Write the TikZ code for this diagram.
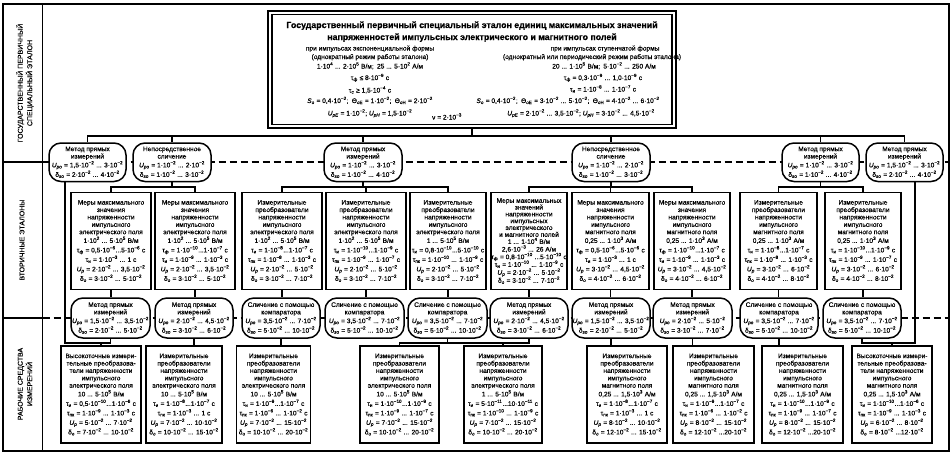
\documentclass[tikz,border=0pt]{standalone}
\usepackage{fontspec}
\setmainfont{Liberation Sans}[FakeBold=0.4]
\newcommand\tn[1]{·10\textsuperscript{#1}}
\newcommand\sbs[1]{\textsubscript{#1}}
\newcommand\Up{\textit{U}\textsubscript{\textit{p}}}
\newcommand\fl{\\[2.1pt]}
\newcommand\ovt[4]{#1\\#2\\[1.4pt]\textit{U}\textsubscript{\textit{po}} = #3\\[2.1pt]δ\textsubscript{\textit{so}} = #4}
\tikzset{
  fs/.style={font={\fontsize{6.6}{7.4}\selectfont\lineskiplimit=-20pt}},
  ov/.style={fs, draw, line width=1.5pt, fill=white, rounded corners=12pt, minimum height=38.5pt, inner sep=0pt, align=center},
  ovc/.style={ov, minimum height=40pt},
  bx/.style={fs, draw, line width=1.8pt, fill=white, minimum height=97pt, inner sep=0pt, align=center},
  ln/.style={line width=1.1pt},
  sepl/.style={line width=1.4pt, dash pattern=on 7pt off 4pt},
  txt/.style={fs, anchor=base, inner sep=0pt},
  rot/.style={rotate=90, align=center, font={\fontsize{7}{9.5}\selectfont}, inner sep=0pt},
}
\begin{document}
\begin{tikzpicture}[x=1pt,y=-1pt]
\useasboundingbox (0,0) rectangle (952,456);
\fill[white] (0,0) rectangle (952,456);
\coordinate (hb) at (0,136);
\coordinate (hs) at (0,187);
\coordinate (hw) at (0,343);
\coordinate (xl) at (65,0);
\coordinate (xr) at (915,0);
% separators
\draw[sepl] (42.5,162) -- (949,162);
\draw[sepl] (42.5,318) -- (949,318);
\draw[line width=2.2pt] (3,4) rectangle (949,451);
\draw[line width=1.8pt] (42.5,4) -- (42.5,451);
\draw[line width=1.8pt] (3,162) -- (42.5,162);
\draw[line width=1.8pt] (3,318) -- (42.5,318);
% side labels
\node[rot] (l1) at (25,83) {ГОСУДАРСТВЕННЫЙ ПЕРВИЧНЫЙ\\СПЕЦИАЛЬНЫЙ ЭТАЛОН};
\node[rot] (l2) at (22,240) {ВТОРИЧНЫЕ ЭТАЛОНЫ};
\node[rot] (l3) at (25,384) {РАБОЧИЕ СРЕДСТВА\\ИЗМЕРЕНИЙ};
% main box
\node[draw, line width=2.2pt, minimum width=408pt, minimum height=117pt, inner sep=0pt] (main) at (472,69.5) {};
\node[draw, line width=1.1pt, minimum width=400pt, minimum height=110pt, inner sep=0pt] (maini) at (472,69.5) {};
\node[txt, font={\fontsize{8.8}{10}\selectfont\bfseries}] (t1) at (472,28) {Государственный первичный специальный эталон единиц максимальных значений};
\node[txt, font={\fontsize{8.8}{10}\selectfont\bfseries}] (t2) at (472,40) {напряженностей импульсных электрического и магнитного полей};
\node[txt] (e1) at (370,50.5) {при импульсах экспоненциальной формы};
\node[txt] (e2) at (370,59) {(однократный режим работы эталона)};
\node[txt] (e3) at (370,68.5) {1\tn{4} ... 2\tn{5} В/м;\enspace 25 ... 5\tn{2} А/м};
\node[txt] (e4) at (370,80) {τ\sbs{ф} ≤ 8\tn{−9} с};
\node[txt] (e5) at (370,92.5) {τ\sbs{с} ≥ 1,5\tn{−4} с};
\node[txt] (e6) at (370,103) {\textit{S}\sbs{о} = 0,4\tn{−2};\enspace Θ\sbs{оE} = 1\tn{−2};\enspace Θ\sbs{оH} = 2\tn{−2}};
\node[txt] (e7) at (370,115.5) {\textit{U}\sbs{\textit{pE}} = 1\tn{−2}; \textit{U}\sbs{\textit{pH}} = 1,5\tn{−2}};
\node[txt] (nu) at (447,119.5) {ν = 2\tn{−3}};
\node[txt] (s1) at (605,50.5) {при импульсах ступенчатой формы};
\node[txt] (s2) at (592,59) {(однократный или периодический режим работы эталона)};
\node[txt] (s3) at (604,68.5) {20 ... 1\tn{5} В/м;\enspace 5\tn{−2} ... 250 А/м};
\node[txt] (s4) at (603,80) {τ\sbs{ф} = 0,3\tn{−9} ... 1,0\tn{−9} с};
\node[txt] (s5) at (603,91.5) {τ\sbs{и} = 1\tn{−8} ... 1\tn{−7} с};
\node[txt] (s6) at (568,103) {\textit{S}\sbs{о} = 0,4\tn{−2};\enspace Θ\sbs{оE} = 3\tn{−2} ... 5\tn{−2};\enspace Θ\sbs{оH} = 4\tn{−2} ... 6\tn{−2}};
\node[txt] (s7) at (581,115.5) {\textit{U}\sbs{\textit{pE}} = 2\tn{−2} ... 3,5\tn{−2}; \textit{U}\sbs{\textit{pH}} = 3\tn{−2} ... 4,5\tn{−2}};
% level 1 ovals
\node[ov, minimum width=77pt] (a1) at (87.5,162.25) {\ovt{Метод прямых}{измерений}{1,5\tn{−2} ... 3\tn{−2}}{2\tn{−2} ... 4\tn{−2}}};
\node[ov, minimum width=78pt] (a2) at (172,162.25) {\ovt{Непосредственное}{сличение}{1\tn{−2} ... 2\tn{−2}}{1\tn{−2} ... 3\tn{−2}}};
\node[ov, minimum width=78pt] (a3) at (363,162.25) {\ovt{Метод прямых}{измерений}{1\tn{−2} ... 3\tn{−2}}{1\tn{−2} ... 4\tn{−2}}};
\node[ov, minimum width=78pt] (a4) at (611,162.25) {\ovt{Непосредственное}{сличение}{1\tn{−2} ... 2\tn{−2}}{1\tn{−2} ... 3\tn{−2}}};
\node[ov, minimum width=77pt] (a5) at (820.5,162.25) {\ovt{Метод прямых}{измерений}{1\tn{−2} ... 3\tn{−2}}{1\tn{−2} ... 4\tn{−2}}};
\node[ov, minimum width=77pt] (a6) at (904.5,162.25) {\ovt{Метод прямых}{измерений}{1,5\tn{−2} ... 3\tn{−2}}{2\tn{−2} ... 4\tn{−2}}};
% secondary standards
\node[bx, minimum width=80pt] (b1) at (111,241) {Меры максимального\\значения\\напряженности\\импульсного\\электрического поля\\[1.3pt]1\tn{2} ... 5\tn{5} В/м\fl τ\sbs{ф} = 0,5\tn{−6}...5\tn{−6} с\fl τ\sbs{и} = 1\tn{−3} ... 1 с\fl \Up{} = 2\tn{−2} ... 3,5\tn{−2}\fl δ\sbs{о} = 3\tn{−2} ... 5\tn{−2}};
\node[bx, minimum width=80pt] (b2) at (195,241) {Меры максимального\\значения\\напряженности\\импульсного\\электрического поля\\[1.3pt]1\tn{2} ... 5\tn{5} В/м\fl τ\sbs{ф} = 1\tn{−10}...1\tn{−7} с\fl τ\sbs{и} = 1\tn{−9} ... 1\tn{−3} с\fl \Up{} = 2\tn{−2} ... 3,5\tn{−2}\fl δ\sbs{о} = 3\tn{−2} ... 5\tn{−2}};
\node[bx, minimum width=80pt] (b3) at (282,241) {Измерительные\\преобразователи\\напряженности\\импульсного\\электрического поля\\[1.3pt]1\tn{2} ... 5\tn{5} В/м\fl τ\sbs{и} = 1\tn{−8}...1\tn{−7} с\fl τ\sbs{пк} = 1\tn{−8} ... 1\tn{−3} с\fl \Up{} = 2\tn{−2} ... 5\tn{−2}\fl δ\sbs{о} = 3\tn{−2} ... 7\tn{−2}};
\node[bx, minimum width=80pt] (b4) at (366,241) {Измерительные\\преобразователи\\напряженности\\импульсного\\электрического поля\\[1.3pt]1\tn{2} ... 5\tn{5} В/м\fl τ\sbs{и} = 1\tn{−10}...1\tn{−9} с\fl τ\sbs{пк} = 1\tn{−9} ... 1\tn{−7} с\fl \Up{} = 2\tn{−2} ... 5\tn{−2}\fl δ\sbs{о} = 3\tn{−2} ... 7\tn{−2}};
\node[bx, minimum width=76pt] (b5) at (448,241) {Измерительные\\преобразователи\\напряженности\\импульсного\\электрического поля\\[1.3pt]1 ... 5\tn{5} В/м\fl τ\sbs{и} = 0,8\tn{−10}...5\tn{−10} с\fl τ\sbs{пк} = 1\tn{−10} ... 1\tn{−9} с\fl \Up{} = 2\tn{−2} ... 5\tn{−2}\fl δ\sbs{о} = 3\tn{−2} ... 7\tn{−2}};
\node[bx, minimum width=76pt, font={\fontsize{6.6}{6.8}\selectfont\lineskiplimit=-20pt}] (b6) at (529,241) {Меры максимальных\\значений\\напряженности\\импульсных\\электрического\\и магнитного полей\\[0.4pt]1 ... 1\tn{4} В/м\\[0.8pt]2,6\tn{−3} ... 26 А/м\\[0.8pt]τ\sbs{ф} = 0,8\tn{−10} ...5\tn{−10} с\\[0.8pt]τ\sbs{и} = 1\tn{−10} ... 1\tn{−9} с\\[1.2pt]\Up{} = 2\tn{−2} ... 5\tn{−2}\\[1.2pt]δ\sbs{о} = 3\tn{−2} ... 7\tn{−2}};
\node[bx, minimum width=77pt] (b7) at (610.5,241) {Меры максимального\\значения\\напряженности\\импульсного\\магнитного поля\\[1.3pt]0,25 ... 1\tn{3} А/м\fl τ\sbs{ф} = 0,5\tn{−6}...5\tn{−6} с\fl τ\sbs{и} = 1\tn{−3} ... 1 с\fl \Up{} = 3\tn{−2} ... 4,5\tn{−2}\fl δ\sbs{о} = 4\tn{−2} ... 6\tn{−2}};
\node[bx, minimum width=76pt] (b8) at (692,241) {Меры максимального\\значения\\напряженности\\импульсного\\магнитного поля\\[1.3pt]0,25 ... 1\tn{3} А/м\fl τ\sbs{ф} = 1\tn{−10}...1\tn{−7} с\fl τ\sbs{и} = 1\tn{−9} ... 1\tn{−3} с\fl \Up{} = 3\tn{−2} ... 4,5\tn{−2}\fl δ\sbs{о} = 4\tn{−2} ... 6\tn{−2}};
\node[bx, minimum width=77pt] (b9) at (778.5,241) {Измерительные\\преобразователи\\напряженности\\импульсного\\магнитного поля\\[1.3pt]0,25 ... 1\tn{3} А/м\fl τ\sbs{и} = 1\tn{−8}...1\tn{−7} с\fl τ\sbs{пк} = 1\tn{−8} ... 1\tn{−3} с\fl \Up{} = 3\tn{−2} ... 6\tn{−2}\fl δ\sbs{о} = 4\tn{−2} ... 8\tn{−2}};
\node[bx, minimum width=76pt] (b10) at (863,241) {Измерительные\\преобразователи\\напряженности\\импульсного\\магнитного поля\\[1.3pt]0,25 ... 1\tn{3} А/м\fl τ\sbs{и} = 1\tn{−10}...1\tn{−9} с\fl τ\sbs{пк} = 1\tn{−9} ... 1\tn{−7} с\fl \Up{} = 3\tn{−2} ... 6\tn{−2}\fl δ\sbs{о} = 4\tn{−2} ... 8\tn{−2}};
% level 3 ovals
\node[ovc, minimum width=79pt] (c1) at (110.5,318) {\ovt{Метод прямых}{измерений}{1,5\tn{−2} ... 3,5\tn{−2}}{2\tn{−2} ... 5\tn{−2}}};
\node[ovc, minimum width=78pt] (c2) at (194,318) {\ovt{Метод прямых}{измерений}{2\tn{−2} ... 4,5\tn{−2}}{3\tn{−2} ... 6\tn{−2}}};
\node[ovc, minimum width=78pt] (c3) at (281,318) {\ovt{Сличение с помощью}{компаратора}{3,5\tn{−2} ... 7\tn{−2}}{5\tn{−2} ... 10\tn{−2}}};
\node[ovc, minimum width=79pt] (c4) at (364.5,318) {\ovt{Сличение с помощью}{компаратора}{3,5\tn{−2} ... 7\tn{−2}}{5\tn{−2} ... 10\tn{−2}}};
\node[ovc, minimum width=79pt] (c5) at (447.5,318) {\ovt{Сличение с помощью}{компаратора}{3,5\tn{−2} ... 7\tn{−2}}{5\tn{−2} ... 10\tn{−2}}};
\node[ovc, minimum width=78pt] (c6) at (529,318) {\ovt{Метод прямых}{измерений}{2\tn{−2} ... 4,5\tn{−2}}{3\tn{−2} ... 6\tn{−2}}};
\node[ovc, minimum width=78pt] (c7) at (611,318) {\ovt{Метод прямых}{измерений}{1,5\tn{−2} ... 3,5\tn{−2}}{2\tn{−2} ... 5\tn{−2}}};
\node[ovc, minimum width=79pt] (c8) at (692.5,318) {\ovt{Метод прямых}{измерений}{2\tn{−2} ... 5\tn{−2}}{3\tn{−2} ... 7\tn{−2}}};
\node[ovc, minimum width=78pt] (c9) at (779,318) {\ovt{Сличение с помощью}{компаратора}{3,5\tn{−2} ... 7\tn{−2}}{5\tn{−2} ... 10\tn{−2}}};
\node[ovc, minimum width=78pt] (c10) at (862,318) {\ovt{Сличение с помощью}{компаратора}{3,5\tn{−2} ... 7\tn{−2}}{5\tn{−2} ... 10\tn{−2}}};
% working instruments
\node[bx, minimum width=80pt] (w1) at (101,394.5) {Высокоточные измери-\\тельные преобразова-\\тели напряженности\\импульсного\\электрического поля\\[1.3pt]10 ... 5\tn{5} В/м\fl τ\sbs{и} = 0,5\tn{−10}...1\tn{−6} с\fl τ\sbs{пк} = 1\tn{−9} ... 1\tn{−3} с\fl \Up{} = 5\tn{−2} ... 7\tn{−2}\fl δ\sbs{о} = 7\tn{−2} ... 10\tn{−2}};
\node[bx, minimum width=76pt] (w2) at (184,394.5) {Измерительные\\преобразователи\\напряженности\\импульсного\\электрического поля\\[1.3pt]10 ... 5\tn{5} В/м\fl τ\sbs{и} = 1\tn{−8}...1\tn{−7} с\fl τ\sbs{пк} = 1\tn{−3} ... 1 с\fl \Up{} = 7\tn{−2} ... 10\tn{−2}\fl δ\sbs{о} = 10\tn{−2} ... 15\tn{−2}};
\node[bx, minimum width=74pt] (w3) at (273.5,394.5) {Измерительные\\преобразователи\\напряженности\\импульсного\\электрического поля\\[1.3pt]10 ... 5\tn{5} В/м\fl τ\sbs{и} = 1\tn{−9}...1\tn{−7} с\fl τ\sbs{пк} = 1\tn{−6} ... 1\tn{−2} с\fl \Up{} = 7\tn{−2} ... 15\tn{−2}\fl δ\sbs{о} = 10\tn{−2} ... 20\tn{−2}};
\node[bx, minimum width=79pt] (w4) at (399.5,394.5) {Измерительные\\преобразователи\\напряженности\\импульсного\\электрического поля\\[1.3pt]10 ... 5\tn{5} В/м\fl τ\sbs{и} = 1\tn{−10}...1\tn{−9} с\fl τ\sbs{пк} = 1\tn{−9} ... 1\tn{−7} с\fl \Up{} = 7\tn{−2} ... 15\tn{−2}\fl δ\sbs{о} = 10\tn{−2} ... 20\tn{−2}};
\node[bx, minimum width=78pt] (w5) at (503,394.5) {Измерительные\\преобразователи\\напряженности\\импульсного\\электрического поля\\[1.3pt]1 ... 5\tn{5} В/м\fl τ\sbs{и} = 5\tn{−11}...10\tn{−11} с\fl τ\sbs{пк} = 1\tn{−10} ... 1\tn{−9} с\fl \Up{} = 7\tn{−2} ... 15\tn{−2}\fl δ\sbs{о} = 10\tn{−2} ... 20\tn{−2}};
\node[bx, minimum width=80pt] (w6) at (627,394.5) {Измерительные\\преобразователи\\напряженности\\импульсного\\магнитного поля\\[1.3pt]0,25 ... 1,5\tn{3} А/м\fl τ\sbs{и} = 1\tn{−8}...1\tn{−7} с\fl τ\sbs{пк} = 1\tn{−3} ... 1 с\fl \Up{} = 8\tn{−2} ... 10\tn{−2}\fl δ\sbs{о} = 12\tn{−2} ... 15\tn{−2}};
\node[bx, minimum width=81pt] (w7) at (713.5,394.5) {Измерительные\\преобразователи\\напряженности\\импульсного\\магнитного поля\\[1.3pt]0,25 ... 1,5\tn{3} А/м\fl τ\sbs{и} = 1\tn{−9}...1\tn{−7} с\fl τ\sbs{пк} = 1\tn{−6} ... 1\tn{−2} с\fl \Up{} = 8\tn{−2} ... 15\tn{−2}\fl δ\sbs{о} = 12\tn{−2} ...20\tn{−2}};
\node[bx, minimum width=81pt] (w8) at (802.5,394.5) {Измерительные\\преобразователи\\напряженности\\импульсного\\магнитного поля\\[1.3pt]0,25 ... 1,5\tn{3} А/м\fl τ\sbs{и} = 1\tn{−10}...1\tn{−9} с\fl τ\sbs{пк} = 1\tn{−9} ... 1\tn{−7} с\fl \Up{} = 8\tn{−2} ... 15\tn{−2}\fl δ\sbs{о} = 12\tn{−2} ...20\tn{−2}};
\node[bx, minimum width=80pt] (w9) at (892,394.5) {Высокоточные измери-\\тельные преобразова-\\тели напряженности\\импульсного\\магнитного поля\\[1.3pt]0,25 ... 1,5\tn{3} А/м\fl τ\sbs{и} = 1\tn{−10}...1\tn{−6} с\fl τ\sbs{пк} = 1\tn{−9} ... 1\tn{−3} с\fl \Up{} = 6\tn{−2} ... 8\tn{−2}\fl δ\sbs{о} = 8\tn{−2} ...12\tn{−2}};
% connectors: primary to methods
\draw[ln] (main.south) -- (main.south |- hb);
\draw[ln] (a1.north) |- (a6.north |- hb) -- (a6.north);
\foreach \n in {a2,a3,a4,a5} \draw[ln] (\n.north) -- (\n.north |- hb);
% methods to secondary
\draw[ln] (a2.south) -- (a2.south |- hs);
\draw[ln] (b1.north) |- (b2.north |- hs) -- (b2.north);
\draw[ln] (a3.south) -- (a3.south |- hs);
\draw[ln] (b3.north) |- (b5.north |- hs) -- (b5.north);
\draw[ln] (b4.north) -- (b4.north |- hs);
\draw[ln] (a4.south) -- (a4.south |- hs);
\draw[ln] (b6.north) |- (b8.north |- hs) -- (b8.north);
\draw[ln] (b7.north) -- (b7.north |- hs);
\draw[ln] (a5.south) -- (a5.south |- hs);
\draw[ln] (b9.north) |- (b10.north |- hs) -- (b10.north);
% secondary to methods
\foreach \i in {1,...,10} \draw[ln] (b\i.south) -- (b\i.south |- c\i.north);
% methods to working instruments
\draw[ln] (a1.south -| xl) -- (xl |- hw) -| (c1.south);
\draw[ln] (w1.north) -- (w1.north |- hw);
\draw[ln] (c2.south) -- (c2.south |- w2.north);
\draw[ln] (c3.south) -- (c3.south |- w3.north);
\draw[ln] (w4.north) |- (c6.south |- hw) -- (c6.south);
\draw[ln] (c5.south) -- (c5.south |- hw);
\draw[ln] (w5.north) -- (w5.north |- hw);
\draw[ln] (c7.south) -- (c7.south |- w6.north);
\draw[ln] (c8.south) -- (c8.south |- w7.north);
\draw[ln] (c9.south) -- (c9.south |- w8.north);
\draw[ln] (a6.south -| xr) -- (xr |- hw) -| (c10.south);
\draw[ln] (w9.north) -- (w9.north |- hw);
\end{tikzpicture}
\end{document}
